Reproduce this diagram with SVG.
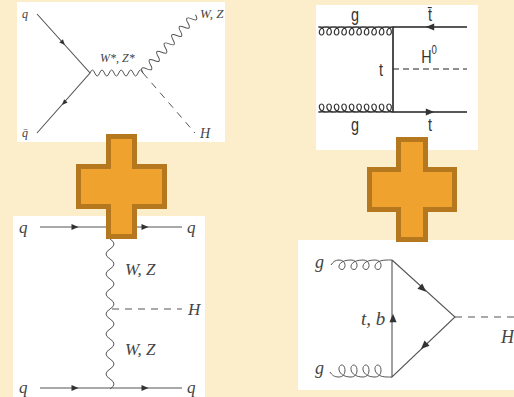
<svg xmlns="http://www.w3.org/2000/svg" width="514" height="397" viewBox="0 0 514 397">
<style>
.panel{fill:#fff}
.line{fill:none;stroke:#555;stroke-width:1.1}
.bold{fill:none;stroke:#222;stroke-width:1.6}
.wave{fill:none;stroke:#555;stroke-width:1}
.gluon{fill:none;stroke:#333;stroke-width:1.2}
.dash{fill:none;stroke:#555;stroke-width:1;stroke-dasharray:7 6}
.dash2{fill:none;stroke:#222;stroke-width:1.2;stroke-dasharray:6 4}
.head{fill:#333}
.cross{fill:#f0a22e;stroke:#b5781f;stroke-width:5}
.m{font-family:"Liberation Serif",serif;font-style:italic;fill:#444}
.s{font-family:"Liberation Sans",sans-serif;fill:#333;font-size:18px;text-anchor:middle}
</style>
<defs>
<path id="arrow" class="head" d="M3.500 0L-3.500 -3L-3.500 3Z"/>
</defs>
<rect width="514" height="397" fill="#fdeecb"/>
<g id="panel-qq-vh">
<rect class="panel" x="17" y="2" width="208" height="140"/>
<g id="connectors-qq-vh">
<path class="line" d="M37 14L90 73L37 133"/>
<path class="wave" d="M90 73q2.4 -6 4.8 0t4.8 0t4.8 0t4.8 0t4.8 0t4.8 0t4.8 0t4.8 0t4.8 0t4.8 0t4.8 0"/>
<path class="wave" transform="translate(143 73) rotate(-48)" d="M0 0q2.8 -8 5.6 0t5.6 0t5.6 0t5.6 0t5.6 0t5.6 0t5.6 0t5.6 0t5.6 0t5.6 0t5.6 0t5.6 0t5.6 0t5.6 0"/>
<path class="dash" d="M143 73L195 133"/>
<use href="#arrow" transform="translate(63 43) rotate(48) scale(.8)"/>
<use href="#arrow" transform="translate(64 103) rotate(132) scale(.8)"/>
</g>
<text class="m" font-size="12" x="22" y="18">q</text>
<text class="m" font-size="12" x="22" y="137">q̄</text>
<text class="m" font-size="12" x="100" y="62">W*, Z*</text>
<text class="m" font-size="13" x="200" y="18">W, Z</text>
<text class="m" font-size="14" x="200" y="138">H</text>
</g>
<g id="panel-ttH">
<rect class="panel" x="316" y="5" width="162" height="145"/>
<g id="connectors-ttH">
<path class="bold" d="M467 27H393V112H467"/>
<path class="dash2" d="M393 69H467"/>
<path class="gluon" d="M318 27H392"/>
<path class="gluon" d="M319 27c6 0 6 8 2.500 8c-3.500 0 -3.500 -8 5 -8c6 0 6 8 2.500 8c-3.500 0 -3.500 -8 5 -8c6 0 6 8 2.500 8c-3.500 0 -3.500 -8 5 -8c6 0 6 8 2.500 8c-3.500 0 -3.500 -8 5 -8c6 0 6 8 2.500 8c-3.500 0 -3.500 -8 5 -8c6 0 6 8 2.500 8c-3.500 0 -3.500 -8 5 -8c6 0 6 8 2.500 8c-3.500 0 -3.500 -8 5 -8c6 0 6 8 2.500 8c-3.500 0 -3.500 -8 5 -8c6 0 6 8 2.500 8c-3.500 0 -3.500 -8 5 -8c6 0 6 8 2.500 8c-3.500 0 -3.500 -8 5 -8"/>
<path class="gluon" d="M318 112H392"/>
<path class="gluon" d="M319 112c6 0 6 -8 2.500 -8c-3.500 0 -3.500 8 5 8c6 0 6 -8 2.500 -8c-3.500 0 -3.500 8 5 8c6 0 6 -8 2.500 -8c-3.500 0 -3.500 8 5 8c6 0 6 -8 2.500 -8c-3.500 0 -3.500 8 5 8c6 0 6 -8 2.500 -8c-3.500 0 -3.500 8 5 8c6 0 6 -8 2.500 -8c-3.500 0 -3.500 8 5 8c6 0 6 -8 2.500 -8c-3.500 0 -3.500 8 5 8c6 0 6 -8 2.500 -8c-3.500 0 -3.500 8 5 8c6 0 6 -8 2.500 -8c-3.500 0 -3.500 8 5 8c6 0 6 -8 2.500 -8c-3.500 0 -3.500 8 5 8"/>
<use href="#arrow" transform="translate(430 27) rotate(180) scale(1.200)"/>
<use href="#arrow" transform="translate(430 112) scale(1.200)"/>
</g>
<text class="s" transform="translate(355 21) scale(.8 1)">g</text>
<text class="s" transform="translate(430 21) scale(.8 1)">t̄</text>
<text class="s" transform="translate(381 76) scale(.8 1)">t</text>
<text class="s" transform="translate(355 131) scale(.8 1)">g</text>
<text class="s" transform="translate(430 131) scale(.8 1)">t</text>
<text class="s" transform="translate(429 63) scale(.8 1)">H<tspan font-size="12" dy="-9">0</tspan></text>
</g>
<g id="panel-vbf">
<rect class="panel" x="13" y="216" width="192" height="181"/>
<g id="connectors-vbf">
<path class="line" d="M40 227H182"/>
<path class="line" d="M40 388H182"/>
<path class="wave" d="M110 239q8 5 0 10t0 10t0 10t0 10t0 10t0 10t0 10t0 10t0 10t0 10t0 10t0 10t0 10t0 10t0 10"/>
<path class="dash" d="M112 309H182"/>
<use href="#arrow" transform="translate(75 227)"/>
<use href="#arrow" transform="translate(145 227)"/>
<use href="#arrow" transform="translate(75 388)"/>
<use href="#arrow" transform="translate(145 388)"/>
</g>
<text class="m" font-size="17" x="19" y="233">q</text>
<text class="m" font-size="17" x="187" y="233">q</text>
<text class="m" font-size="17" x="19" y="393">q</text>
<text class="m" font-size="17" x="187" y="393">q</text>
<text class="m" font-size="17" x="125" y="275">W, Z</text>
<text class="m" font-size="17" x="125" y="355">W, Z</text>
<text class="m" font-size="17" x="188" y="315">H</text>
</g>
<g id="panel-ggf">
<rect class="panel" x="298" y="240" width="216" height="150"/>
<g id="connectors-ggf">
<path class="line" d="M392 260V377L455 317L392 260"/>
<path class="dash" d="M455 317H514"/>
<path class="wave" d="M331 265c2 -3 4 -5 8 -5c8 0 7 9.500 3 9.500c-5 0 -5 -9.500 9 -9.500c8 0 7 9.500 3 9.500c-5 0 -5 -9.500 9 -9.500c8 0 7 9.500 3 9.500c-5 0 -5 -9.500 9 -9.500c8 0 7 9.500 3 9.500c-5 0 -5 -9.500 9 -9.500c2 0 4 0 5 0"/>
<path class="wave" d="M330 372c2 3 4 5 9 5c8 0 7 -12 3 -12c-5 0 -5 12 9 12c8 0 7 -12 3 -12c-5 0 -5 12 9 12c8 0 7 -12 3 -12c-5 0 -5 12 9 12c8 0 7 -12 3 -12c-5 0 -5 12 9 12c2 0 4 0 5 0"/>
<use href="#arrow" transform="translate(423 289) rotate(42) scale(1.200)"/>
<use href="#arrow" transform="translate(424 346) rotate(136) scale(1.200)"/>
<use href="#arrow" transform="translate(393 318) rotate(-90) scale(1.200)"/>
</g>
<text class="m" font-size="18" x="315" y="268">g</text>
<text class="m" font-size="18" x="315" y="374">g</text>
<text class="m" font-size="19" x="361" y="325">t, b</text>
<text class="m" font-size="18" x="501" y="343">H</text>
</g>
<g id="plus-left"><path class="cross" d="M108.500 136.500H134.500V166.500H164.500V206.500H134.500V236.500H108.500V206.500H78.500V166.500H108.500Z"/></g>
<g id="plus-right"><path class="cross" d="M398.500 139.500H425.500V169.500H454.500V209.500H425.500V239.500H398.500V209.500H369.500V169.500H398.500Z"/></g>
</svg>
